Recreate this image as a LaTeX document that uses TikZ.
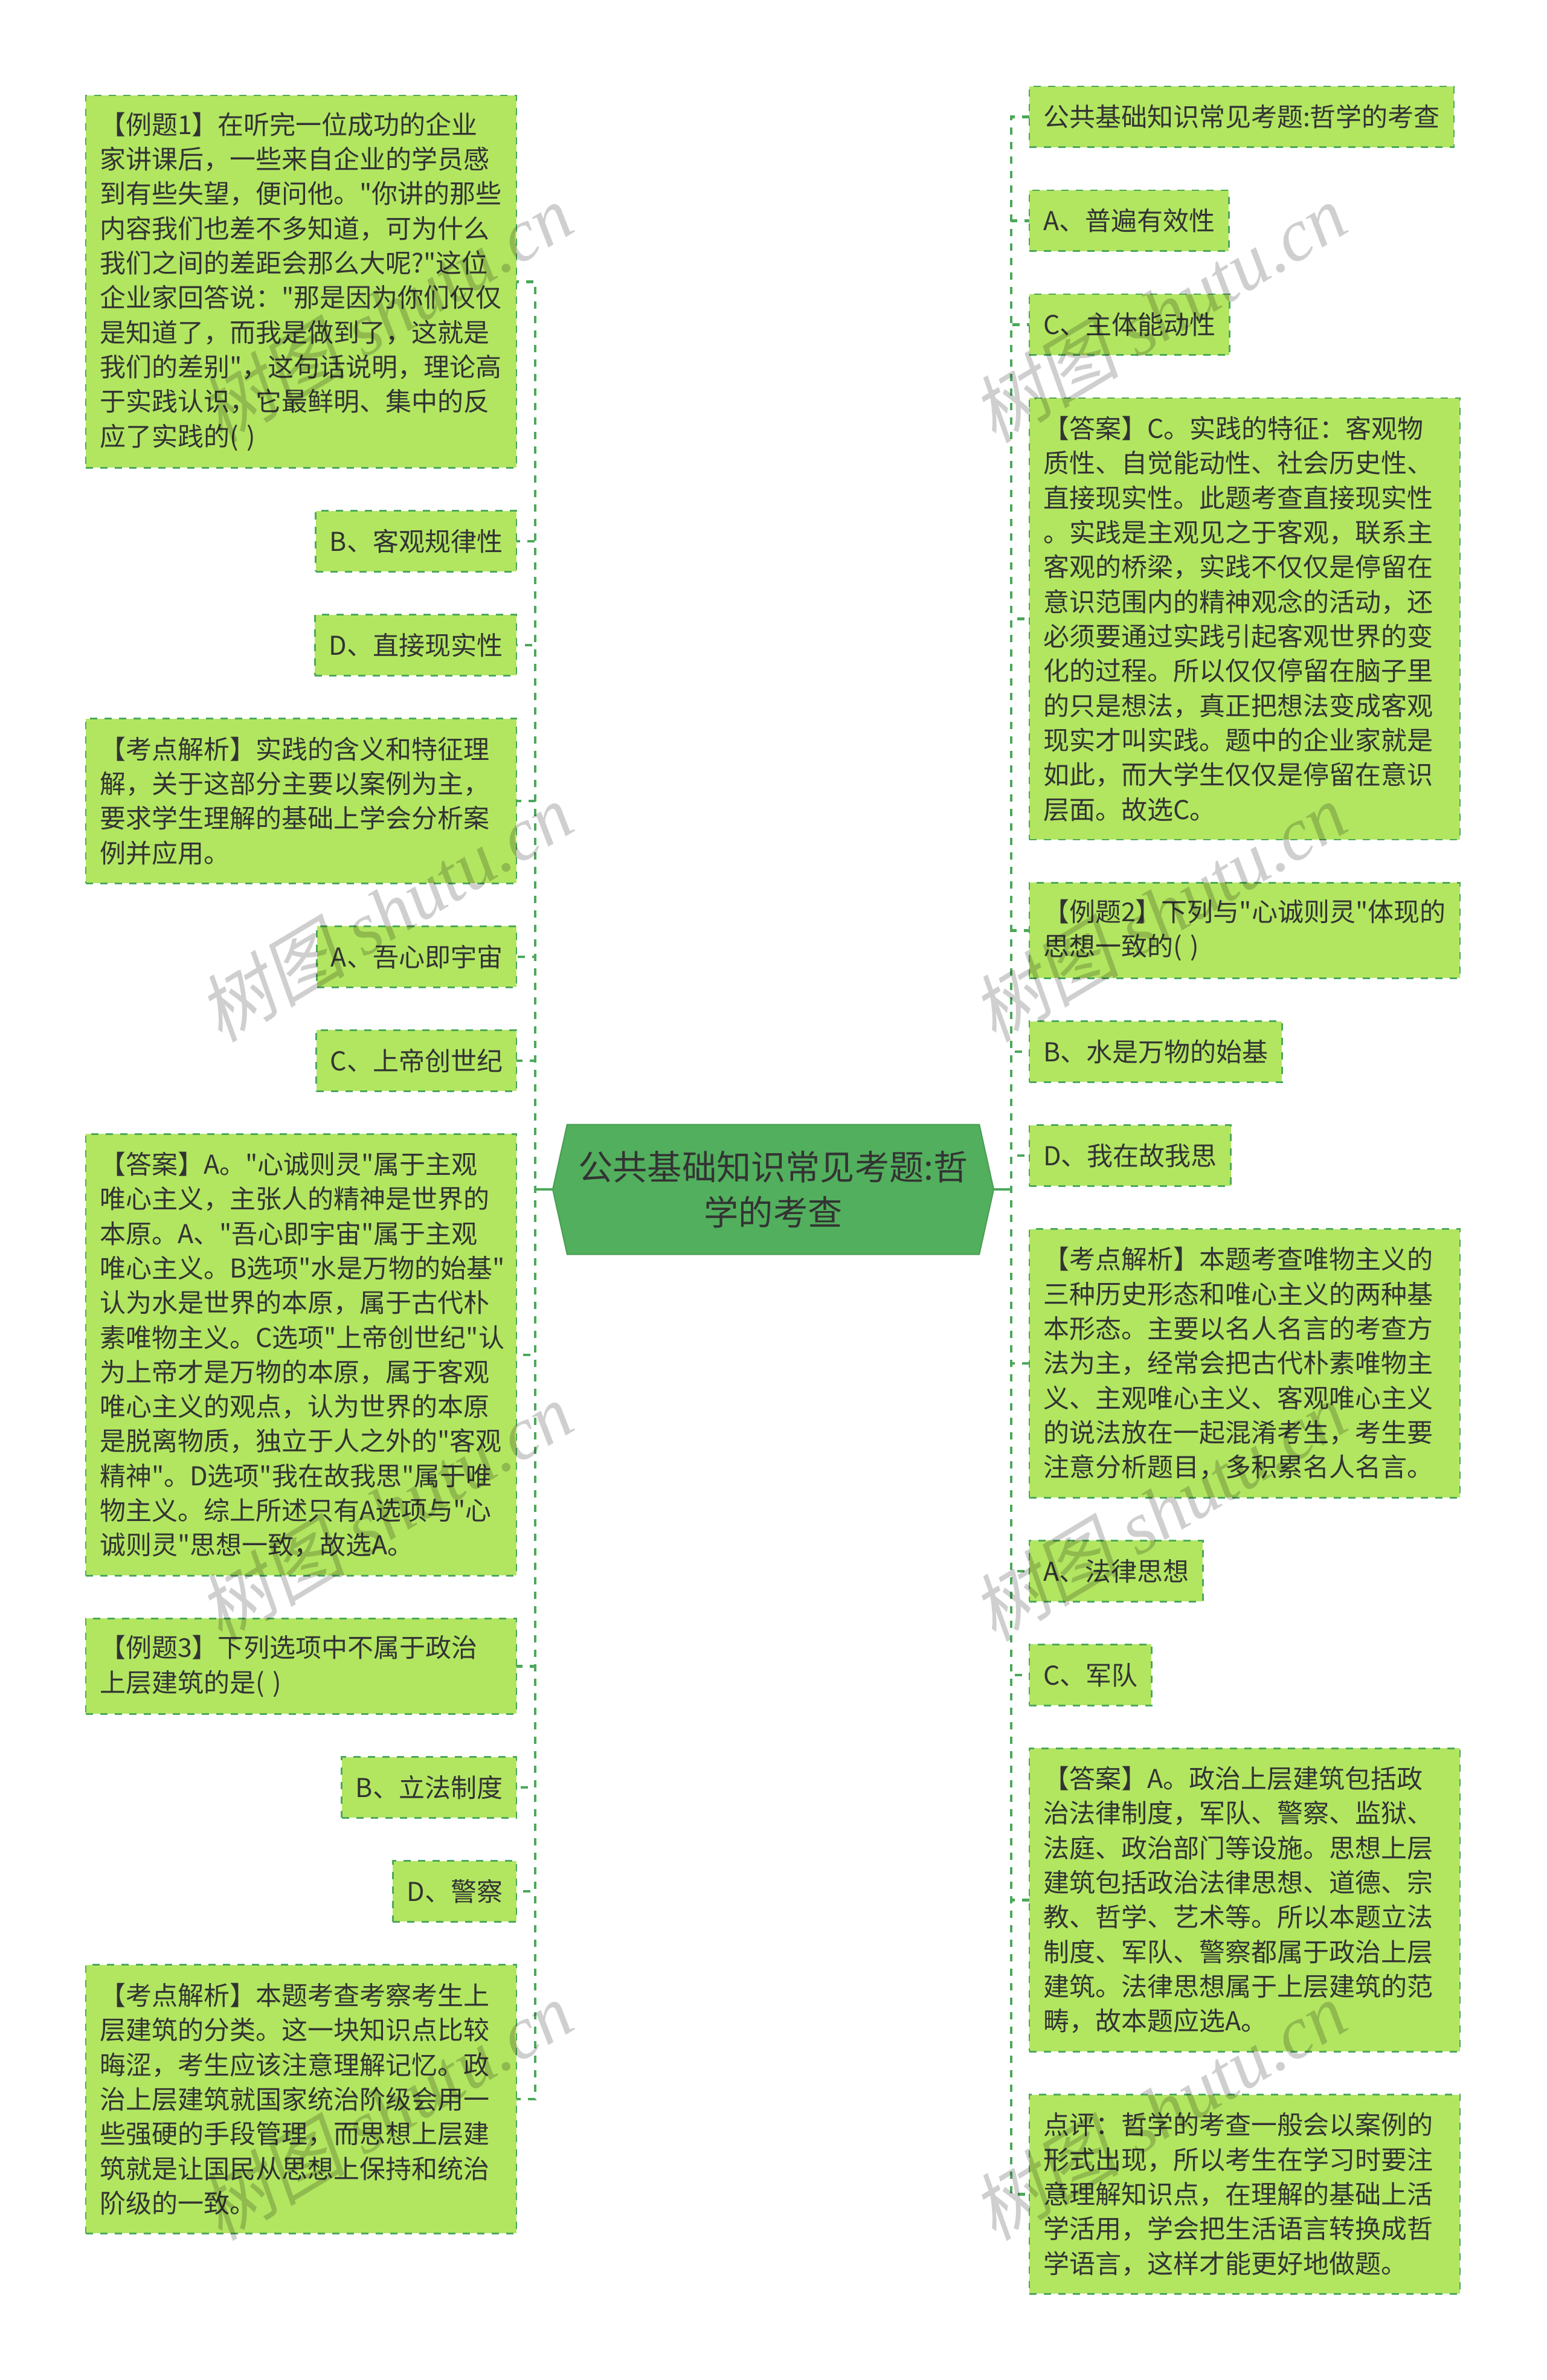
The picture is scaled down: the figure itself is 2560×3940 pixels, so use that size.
\documentclass[tikz,border=0pt]{standalone}
\usepackage{fontspec}
\usepackage{tikz}
\usetikzlibrary{shapes}
\newfontfamily\cnfont{Noto Sans CJK SC}
\newfontfamily\wmcjk{Noto Sans CJK SC}[FakeSlant=0.2]
\newfontfamily\wmlatin{Liberation Serif Italic}
\definecolor{leafgreen}{RGB}{178,230,97}
\definecolor{rootgreen}{RGB}{82,175,93}
\definecolor{linkgreen}{RGB}{76,168,90}
\definecolor{inkgray}{RGB}{51,51,51}
\tikzset{
    leafbox/.style={draw=linkgreen,fill=leafgreen,line width=1.4pt,dash pattern=on 6pt off 6pt,outer sep=0pt,
        inner xsep=11.5pt,inner ysep=0pt,text=inkgray,font=\cnfont\fontsize{21.5}{28.65}\selectfont},
    nlines/.style={minimum height=#1*28.65pt+21.7pt},
    widebox/.style={text width=333.5pt,align=left},
    linkline/.style={draw=linkgreen,line width=2.3pt,dash pattern=on 6pt off 6pt,dash phase=0.5pt},
    rootline/.style={draw=linkgreen,line width=2.3pt},
    rootbox/.style={shape=signal,signal to=west and east,signal pointer angle=155,draw=rootgreen!90!black,
        fill=rootgreen,line width=1pt,outer sep=0pt,minimum width=365pt,minimum height=107.5pt,inner sep=0pt,
        align=center,text=inkgray,font=\cnfont\fontsize{28.6}{37.5}\selectfont},
    wmark/.style={rotate=31,text=black,text opacity=0.19,font=\fontsize{61.5}{61.5}\selectfont}
}
\begin{document}
\begin{tikzpicture}[x=0.5pt,y=-0.5pt]
    \useasboundingbox (0,0) rectangle (2560,3940);

    \node [rootbox](n) at (1280,1969) {公共基础知识常见考题:哲\\学的考查};
    \coordinate (trunkL) at (886,1969);
    \coordinate (trunkR) at (1674,1969);

    \node [leafbox,nlines=10,widebox,anchor=east](l1) at (855,466.2) {【例题1】在听完一位成功的企业\\家讲课后，一些来自企业的学员感\\到有些失望，便问他。"你讲的那些\\内容我们也差不多知道，可为什么\\我们之间的差距会那么大呢?"这位\\企业家回答说："那是因为你们仅仅\\是知道了，而我是做到了，这就是\\我们的差别"，这句话说明，理论高\\于实践认识，它最鲜明、集中的反\\应了实践的( )};
    \node [leafbox,nlines=1,anchor=east](l2) at (855,896) {B、客观规律性};
    \node [leafbox,nlines=1,anchor=east](l3) at (855,1068) {D、直接现实性};
    \node [leafbox,nlines=4,widebox,anchor=east](l4) at (855,1325.9) {【考点解析】实践的含义和特征理\\解，关于这部分主要以案例为主，\\要求学生理解的基础上学会分析案\\例并应用。};
    \node [leafbox,nlines=1,anchor=east](l5) at (855,1583.8) {A、吾心即宇宙};
    \node [leafbox,nlines=1,anchor=east](l6) at (855,1755.8) {C、上帝创世纪};
    \node [leafbox,nlines=12,widebox,anchor=east](l7) at (855,2242.8) {【答案】A。"心诚则灵"属于主观\\唯心主义，主张人的精神是世界的\\本原。A、"吾心即宇宙"属于主观\\唯心主义。B选项"水是万物的始基"\\认为水是世界的本原，属于古代朴\\素唯物主义。C选项"上帝创世纪"认\\为上帝才是万物的本原，属于客观\\唯心主义的观点，认为世界的本原\\是脱离物质，独立于人之外的"客观\\精神"。D选项"我在故我思"属于唯\\物主义。综上所述只有A选项与"心\\诚则灵"思想一致，故选A。};
    \node [leafbox,nlines=2,widebox,anchor=east](l8) at (855,2758.4) {【例题3】下列选项中不属于政治\\上层建筑的是( )};
    \node [leafbox,nlines=1,anchor=east](l9) at (855,2959.1) {B、立法制度};
    \node [leafbox,nlines=1,anchor=east](l10) at (855,3131.1) {D、警察};
    \node [leafbox,nlines=7,widebox,anchor=east](l11) at (855,3475) {【考点解析】本题考查考察考生上\\层建筑的分类。这一块知识点比较\\晦涩，考生应该注意理解记忆。政\\治上层建筑就国家统治阶级会用一\\些强硬的手段管理，而思想上层建\\筑就是让国民从思想上保持和统治\\阶级的一致。};

    \node [leafbox,nlines=1,anchor=west](r1) at (1704,193.4) {公共基础知识常见考题:哲学的考查};
    \node [leafbox,nlines=1,anchor=west](r2) at (1704,365.4) {A、普遍有效性};
    \node [leafbox,nlines=1,anchor=west](r3) at (1704,537.4) {C、主体能动性};
    \node [leafbox,nlines=12,widebox,anchor=west](r4) at (1704,1024.5) {【答案】C。实践的特征：客观物\\质性、自觉能动性、社会历史性、\\直接现实性。此题考查直接现实性\\。实践是主观见之于客观，联系主\\客观的桥梁，实践不仅仅是停留在\\意识范围内的精神观念的活动，还\\必须要通过实践引起客观世界的变\\化的过程。所以仅仅停留在脑子里\\的只是想法，真正把想法变成客观\\现实才叫实践。题中的企业家就是\\如此，而大学生仅仅是停留在意识\\层面。故选C。};
    \node [leafbox,nlines=2,widebox,anchor=west](r5) at (1704,1540.3) {【例题2】下列与"心诚则灵"体现的\\思想一致的( )};
    \node [leafbox,nlines=1,anchor=west](r6) at (1704,1741) {B、水是万物的始基};
    \node [leafbox,nlines=1,anchor=west](r7) at (1704,1913) {D、我在故我思};
    \node [leafbox,nlines=7,widebox,anchor=west](r8) at (1704,2256.9) {【考点解析】本题考查唯物主义的\\三种历史形态和唯心主义的两种基\\本形态。主要以名人名言的考查方\\法为主，经常会把古代朴素唯物主\\义、主观唯心主义、客观唯心主义\\的说法放在一起混淆考生，考生要\\注意分析题目，多积累名人名言。};
    \node [leafbox,nlines=1,anchor=west](r9) at (1704,2600.8) {A、法律思想};
    \node [leafbox,nlines=1,anchor=west](r10) at (1704,2772.8) {C、军队};
    \node [leafbox,nlines=8,widebox,anchor=west](r11) at (1704,3145.3) {【答案】A。政治上层建筑包括政\\治法律制度，军队、警察、监狱、\\法庭、政治部门等设施。思想上层\\建筑包括政治法律思想、道德、宗\\教、哲学、艺术等。所以本题立法\\制度、军队、警察都属于政治上层\\建筑。法律思想属于上层建筑的范\\畴，故本题应选A。};
    \node [leafbox,nlines=5,widebox,anchor=west](r12) at (1704,3632.5) {点评：哲学的考查一般会以案例的\\形式出现，所以考生在学习时要注\\意理解知识点，在理解的基础上活\\学活用，学会把生活语言转换成哲\\学语言，这样才能更好地做题。};

    \draw[rootline] (n.west) -- (trunkL);
    \draw[rootline] (n.east) -- (trunkR);
    \foreach \i in {1,...,11}
        \draw[linkline] (n.west) -- (trunkL) |- (l\i.east);
    \foreach \i in {1,...,12}
        \draw[linkline] (n.east) -- (trunkR) |- (r\i.west);

    \foreach \wx/\wy/\wn in {637/518/wa,637/1510/wb,637/2502/wc,637/3494/wd,1918/518/we,1918/1510/wf,1918/2502/wg,1918/3494/wh}
        \node [wmark](\wn) at (\wx,\wy) {{\wmcjk 树图}{\wmlatin\ shutu.cn}};
\end{tikzpicture}
\end{document}
